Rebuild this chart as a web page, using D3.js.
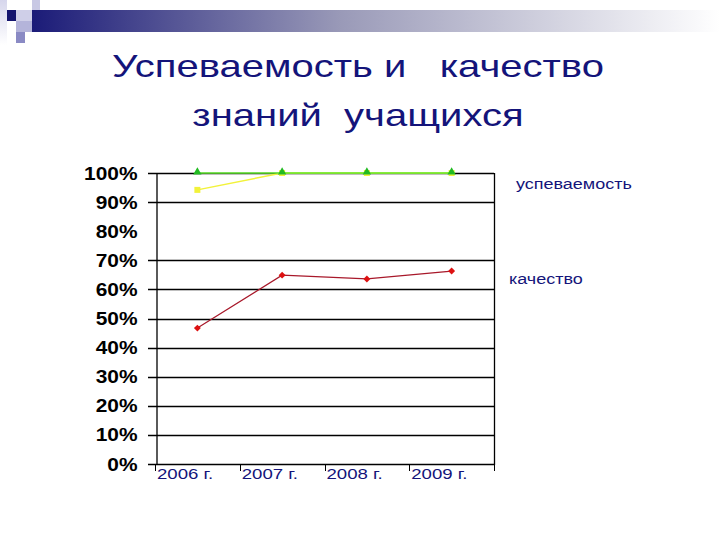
<!DOCTYPE html>
<html><head><meta charset="utf-8">
<script src="https://cdn.jsdelivr.net/npm/d3@7"></script>
<style>body{margin:0;background:#fff}svg{display:block}text{font-family:"Liberation Sans",Arial,sans-serif}</style>
</head><body>
<svg id="c" width="720" height="540"></svg>
<script>
const years = ["2006 г.", "2007 г.", "2008 г.", "2009 г."];
const uspevaemost = [0.942, 1.0, 1.0, 1.0];
const uspevaemostAll = [1.0, 1.0, 1.0, 1.0];
const kachestvo = [0.467, 0.649, 0.636, 0.663];
const yTicks = [0, 0.1, 0.2, 0.3, 0.4, 0.5, 0.6, 0.7, 0.8, 0.9, 1.0];
const gridTicks = [0, 0.1, 0.2, 0.3, 0.4, 0.5, 0.6, 0.7, 0.9, 1.0];
const titleLines = ["Успеваемость и   качество", "знаний  учащихся"];
const legendLabels = ["успеваемость", "качество"];

const svg = d3.select("#c");
const navy = "#14147a";
function stretch(sel, k){ sel.each(function(){ const w=this.getComputedTextLength(); d3.select(this).attr("textLength", w*k).attr("lengthAdjust","spacingAndGlyphs"); }); }

// decoration
const defs = svg.append("defs");
const g1 = defs.append("linearGradient").attr("id","bar");
g1.append("stop").attr("offset","0").attr("stop-color","#1b1b78");
g1.append("stop").attr("offset","0.45").attr("stop-color","#9a9ab8");
g1.append("stop").attr("offset","1").attr("stop-color","#ffffff");
const g2 = defs.append("linearGradient").attr("id","side").attr("x1",0).attr("x2",0).attr("y1",0).attr("y2",1);
g2.append("stop").attr("offset","0").attr("stop-color","#d6d6ec");
g2.append("stop").attr("offset","1").attr("stop-color","#ffffff");
svg.append("rect").attr("x",0).attr("y",0).attr("width",7).attr("height",45).attr("fill","url(#side)");
svg.append("rect").attr("x",32).attr("y",10).attr("width",688).attr("height",22).attr("fill","url(#bar)");
svg.append("rect").attr("x",32).attr("y",0).attr("width",8).attr("height",10).attr("fill","#c8c8e4");
svg.append("rect").attr("x",7).attr("y",10).attr("width",9).attr("height",11).attr("fill","#14146e");
svg.append("rect").attr("x",16).attr("y",10).attr("width",16).attr("height",11).attr("fill","#cfcfe8");
svg.append("rect").attr("x",16).attr("y",21).attr("width",16).attr("height",11).attr("fill","#b4b4da");
svg.append("rect").attr("x",16).attr("y",32).attr("width",9).attr("height",11).attr("fill","#8a8ac4");

// title
const tt = svg.append("g").selectAll("text").data(titleLines).join("text")
  .attr("x",358).attr("y",(d,i)=>77+i*49).attr("text-anchor","middle")
  .attr("font-size",32).attr("fill",navy).style("white-space","pre")
  .text(d=>d);
stretch(tt, 1.25);

const x = d3.scaleBand().domain(years).range([155,494]);
const y = d3.scaleLinear().domain([0,1]).range([464,173]);

// gridlines
svg.append("g").selectAll("line").data(gridTicks).join("line")
  .attr("x1",148).attr("x2",494).attr("y1",d=>Math.round(y(d))+0.5).attr("y2",d=>Math.round(y(d))+0.5)
  .attr("stroke","#000").attr("stroke-width",1.3);

// y axis
const ya = svg.append("g").attr("transform","translate(156.5,0)")
  .call(d3.axisLeft(y).tickValues(yTicks).tickFormat(d3.format(".0%")).tickSize(0).tickPadding(19));
ya.select(".domain").attr("stroke","#000").attr("stroke-width",1.3);
ya.selectAll("text").attr("font-size",19).attr("font-weight","bold").attr("fill","#000")
  .attr("font-family","'Liberation Sans',Arial,sans-serif");
stretch(ya.selectAll("text"), 1.1);

// right border
svg.append("line").attr("x1",494.5).attr("x2",494.5).attr("y1",y(1)).attr("y2",y(0)+1)
  .attr("stroke","#000").attr("stroke-width",1.3);

// x axis
const xa = svg.append("g").attr("transform","translate(0,464)")
  .call(d3.axisBottom(x).tickSize(0).tickPadding(0));
xa.select(".domain").remove();
const bounds = years.map(d=>x(d)).concat([x(years[years.length-1])+x.bandwidth()]);
svg.append("g").selectAll("line").data(bounds).join("line")
  .attr("x1",d=>Math.round(d)+0.5).attr("x2",d=>Math.round(d)+0.5).attr("y1",464).attr("y2",471)
  .attr("stroke","#000").attr("stroke-width",1);
xa.selectAll(".tick text").attr("text-anchor","start")
  .attr("x",-x.bandwidth()/2+2).attr("y",15).attr("dy",0)
  .attr("font-size",15).attr("fill",navy)
  .attr("font-family","'Liberation Sans',Arial,sans-serif");
stretch(xa.selectAll(".tick text"), 1.24);

const cx = d=>x(d)+x.bandwidth()/2;
const line = d3.line().x((v,i)=>cx(years[i])).y(v=>y(v));

// yellow
svg.append("path").attr("d",line(uspevaemost)).attr("fill","none").attr("stroke","#f2f23a").attr("stroke-width",1.5);
svg.append("g").selectAll("rect").data(uspevaemost).join("rect")
  .attr("x",(v,i)=>cx(years[i])-3).attr("y",v=>y(v)-3).attr("width",6).attr("height",6).attr("fill","#f2f23a");
// green
svg.append("path").attr("d",line(uspevaemostAll)).attr("fill","none").attr("stroke","#66ee33").attr("stroke-width",1.5);
svg.append("g").selectAll("path").data(uspevaemostAll).join("path")
  .attr("d",d3.symbol(d3.symbolTriangle,30))
  .attr("transform",(v,i)=>`translate(${cx(years[i])},${y(v)-1})`).attr("fill","#22bb22");
// red
svg.append("path").attr("d",line(kachestvo)).attr("fill","none").attr("stroke","#a8182a").attr("stroke-width",1.2);
svg.append("g").selectAll("path").data(kachestvo).join("path")
  .attr("d",d3.symbol(d3.symbolSquare,24))
  .attr("transform",(v,i)=>`translate(${cx(years[i])},${y(v)}) rotate(45)`).attr("fill","#dd1111");

// legend
const lg = svg.append("g");
lg.append("text").attr("x",516).attr("y",189).attr("font-size",15.5).attr("fill",navy).text(legendLabels[0]);
lg.append("text").attr("x",509).attr("y",284).attr("font-size",15.5).attr("fill",navy).text(legendLabels[1]);
stretch(lg.selectAll("text"), 1.16);
</script>
</body></html>
